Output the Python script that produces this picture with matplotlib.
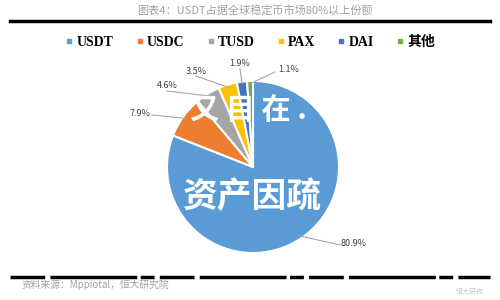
import matplotlib.pyplot as plt
import numpy as np
from matplotlib import font_manager

plt.rcParams['font.family'] = ['Noto Sans CJK SC', 'DejaVu Sans']

coins = ['USDT', 'USDC', 'TUSD', 'PAX', 'DAI', '其他']
shares = [80.9, 7.9, 4.6, 3.5, 1.9, 1.1]
share_labels = ['80.9%', '7.9%', '4.6%', '3.5%', '1.9%', '1.1%']
colors = ['#5B9BD5', '#ED7D31', '#A5A5A5', '#FFC000', '#4472C4', '#70AD47']

title = '图表4：USDT占据全球稳定币市场80%以上份额'
source = '资料来源：Mppiotal，恒大研究院'

# label text spots (pixel coords, y from top)
label_pos = [(354, 243), (140, 113), (167, 86), (196, 71), (240, 64), (289, 70)]


def py(y):
    return 300 - y


installed = {f.name for f in font_manager.fontManager.ttflist}
serif = [f for f in ['Liberation Serif', 'DejaVu Serif'] if f in installed]

fig = plt.figure(figsize=(5, 3), dpi=100)
ax = fig.add_axes([0, 0, 1, 1])

cx, cy, r = 253, py(167), 86
wedges, _ = ax.pie(shares, colors=colors, startangle=90, counterclock=False,
                   center=(cx, cy), radius=r, frame=True,
                   wedgeprops=dict(edgecolor='white', linewidth=1.5))
ax.set_xlim(0, 500)
ax.set_ylim(0, 300)
ax.set_aspect('equal')
ax.axis('off')

for w, lab, (lx, ly) in zip(wedges, share_labels, label_pos):
    ang = np.deg2rad((w.theta1 + w.theta2) / 2)
    ex = cx + r * 0.97 * np.cos(ang)
    ey = cy + r * 0.97 * np.sin(ang)
    ha = 'left' if lx > cx else 'right'
    tx = lx - 14 if ha == 'left' else lx + 12
    if lab in ('1.9%', '3.5%', '4.6%'):
        ha = 'center'
        tx = lx
    ax.plot([ex, tx], [ey, py(ly) - 2 if ha != 'center' else py(ly) - 5],
            color='#a6a6a6', lw=0.8)
    ax.text(lx, py(ly), lab, ha='center', va='center', fontsize=6.5,
            color='#404040')

# watermark overlay
ax.text(248, py(110), '又 目 在 .', ha='center', va='center', fontsize=21,
        color='white', fontweight='bold')
ax.text(252, py(197), '资产因疏', ha='center', va='center', fontsize=25,
        color='white', fontweight='bold')

# header / footer
ax.text(255, py(10), title, ha='center', va='center', fontsize=8,
        color='#a0a0a0')
ax.plot([10, 490], [py(21), py(21)], color='black', lw=2.5)
ax.plot([10, 490], [py(277), py(277)], color='black', lw=2.5,
        dashes=(10, 1.5, 25, 1, 4, 1.5))
ax.text(22, py(285), source, ha='left', va='center', fontsize=7,
        color='#a0a0a0', style='italic')
ax.text(470, py(292), '恒大研究', ha='center', va='center', fontsize=5,
        color='#c8c8c8')

handles = [plt.Line2D([], [], marker='s', ls='', color=c, markersize=3.5)
           for c in colors]
fig.legend(handles, coins, loc='center', bbox_to_anchor=(0.5, 1 - 42 / 300),
           ncol=6, frameon=False, handlelength=0.6, handletextpad=0.2,
           columnspacing=1.6,
           prop=dict(family=serif + ['Noto Sans CJK SC'],
                     weight='bold', size=10))

fig.savefig('out.png', dpi=100)
